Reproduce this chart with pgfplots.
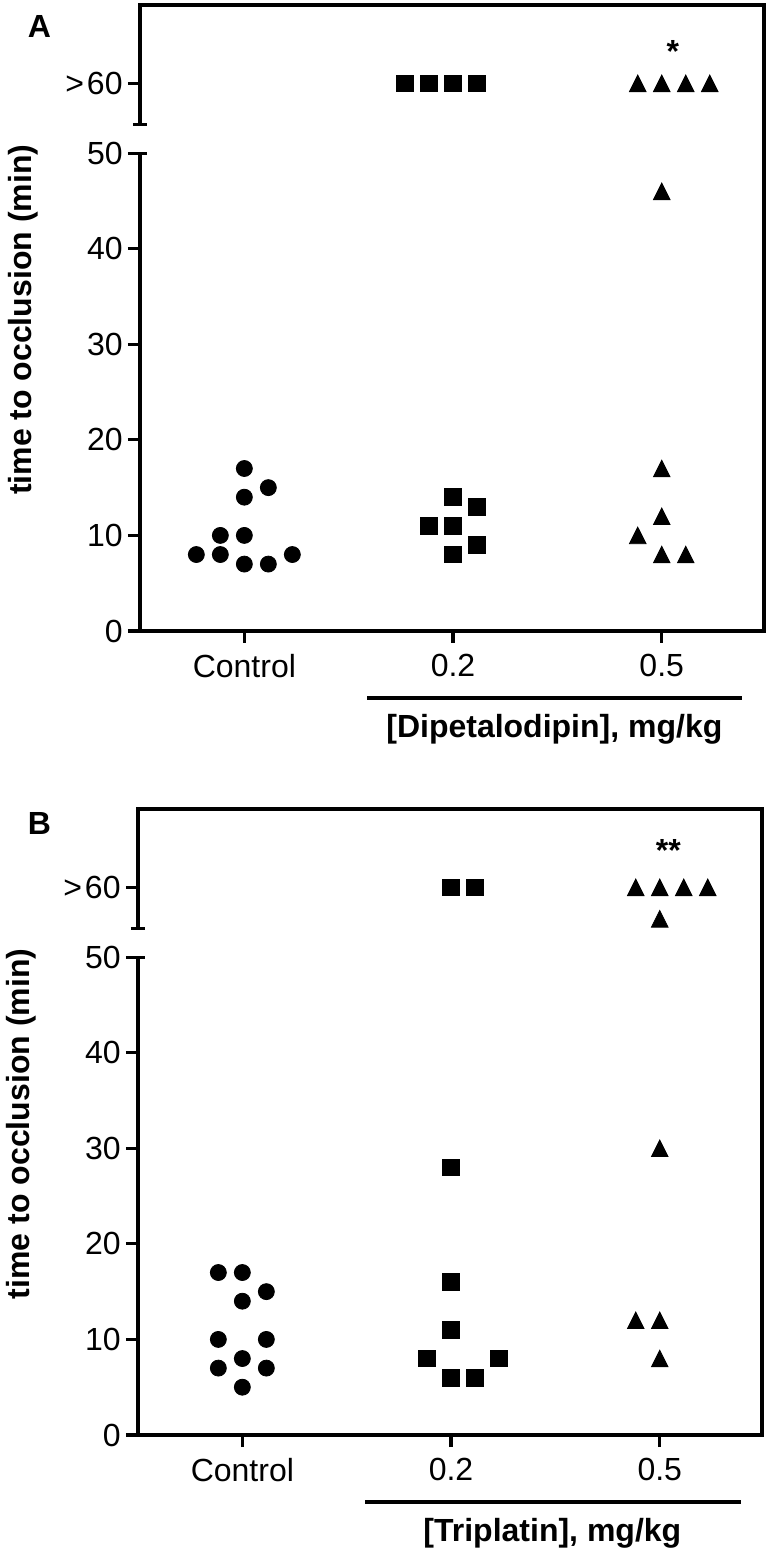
\documentclass[border=0pt]{standalone}
\usepackage{pgfplots}
\pgfplotsset{compat=1.18}
\usepackage{fontspec}
\setmainfont{Liberation Sans}

\pgfplotsset{
 panel/.style={
  scale only axis, width=312pt, height=313pt,
  xmin=-0.5, xmax=2.49, ymin=0, ymax=65.5,
  xtick={0,1,2}, xticklabels={Control,0.2,0.5},
  ytick={0,10,20,30,40,50,57.3}, yticklabels={0,10,20,30,40,50,{>\kern1.5pt60}},
  tick align=outside, xtick pos=left, ytick pos=left,
  major tick length=6pt,
  axis line style={line width=1.6pt},
  major tick style={line width=1.6pt, black},
  ticklabel style={font=\fontsize{16}{19}\selectfont},
  yticklabel style={inner xsep=2.5pt},
  xticklabel style={inner ysep=5.5pt},
  clip=false,
  anchor=south west,
  every axis y label/.style={at={(axis description cs:-0.187,0.497)}, rotate=90, anchor=center, font=\bfseries\fontsize{16}{19}\selectfont},
  every axis x label/.style={at={(axis description cs:0.664,-0.157)}, anchor=center, font=\bfseries\fontsize{16}{19}\selectfont},
  ylabel={time to occlusion (min)},
 },
 circ/.style={only marks, mark=*, black, mark size=4pt},
 sq/.style={only marks, mark=square*, black, mark size=4.15pt},
 tri/.style={only marks, mark=triangle*, black, mark size=4.8pt, mark options={yshift=-1.38pt, yscale=1.15}},
}

\begin{document}
\begin{tikzpicture}
\useasboundingbox (0,0) rectangle (386pt,776pt);

% ---------------- Panel A ----------------
\begin{axis}[panel, at={(70pt,460.5pt)}, xlabel={[Dipetalodipin], mg/kg}]
\addplot[circ] coordinates {(-0.23,8) (-0.115,10) (-0.115,8) (0,17) (0,14) (0,10) (0,7) (0.115,15) (0.115,7) (0.23,8)};
\addplot[sq] coordinates {(0.885,11) (1,14) (1,11) (1,8) (1.115,13) (1.115,9)
  (0.77,57.3) (0.885,57.3) (1,57.3) (1.115,57.3)};
\addplot[tri] coordinates {(1.885,10) (2,17) (2,12) (2,8) (2.115,8) (2,46)
  (1.885,57.3) (2,57.3) (2.115,57.3) (2.23,57.3)};
\fill[white] ([xshift=-2pt]axis cs:-0.5,50) rectangle ([xshift=2pt]axis cs:-0.5,53);
\draw[line width=1.6pt] ([xshift=-3.5pt]axis cs:-0.5,50) -- ([xshift=3.5pt]axis cs:-0.5,50);
\draw[line width=1.6pt] ([xshift=-3.5pt]axis cs:-0.5,53) -- ([xshift=3.5pt]axis cs:-0.5,53);
\draw[line width=1.6pt] ([yshift=-33.5pt]axis cs:0.59,0) -- ([yshift=-33.5pt]axis cs:2.385,0);
\node[anchor=base, font=\bfseries\fontsize{16}{19}\selectfont] at (axis cs:2.053,59.5) {*};
\end{axis}
\node[font=\bfseries\fontsize{16}{19}\selectfont] at (19.7pt,762.7pt) {A};

% ---------------- Panel B ----------------
\begin{axis}[panel, at={(69pt,58.5pt)}, xlabel={[Triplatin], mg/kg}]
\addplot[circ] coordinates {(-0.115,17) (0,17) (0.115,15) (0,14) (-0.115,10) (0.115,10) (0,8) (-0.115,7) (0.115,7) (0,5)};
\addplot[sq] coordinates {(1,57.3) (1.115,57.3) (1,28) (1,16) (1,11) (0.885,8) (1.23,8) (1,6) (1.115,6)};
\addplot[tri] coordinates {(1.885,57.3) (2,57.3) (2.115,57.3) (2.23,57.3) (2,54) (2,30) (1.885,12) (2,12) (2,8)};
\fill[white] ([xshift=-2pt]axis cs:-0.5,50) rectangle ([xshift=2pt]axis cs:-0.5,53);
\draw[line width=1.6pt] ([xshift=-3.5pt]axis cs:-0.5,50) -- ([xshift=3.5pt]axis cs:-0.5,50);
\draw[line width=1.6pt] ([xshift=-3.5pt]axis cs:-0.5,53) -- ([xshift=3.5pt]axis cs:-0.5,53);
\draw[line width=1.6pt] ([yshift=-33.5pt]axis cs:0.59,0) -- ([yshift=-33.5pt]axis cs:2.39,0);
\node[anchor=base, font=\bfseries\fontsize{16}{19}\selectfont] at (axis cs:2.041,60) {**};
\end{axis}
\node[font=\bfseries\fontsize{16}{19}\selectfont] at (19.7pt,364pt) {B};
\end{tikzpicture}
\end{document}
